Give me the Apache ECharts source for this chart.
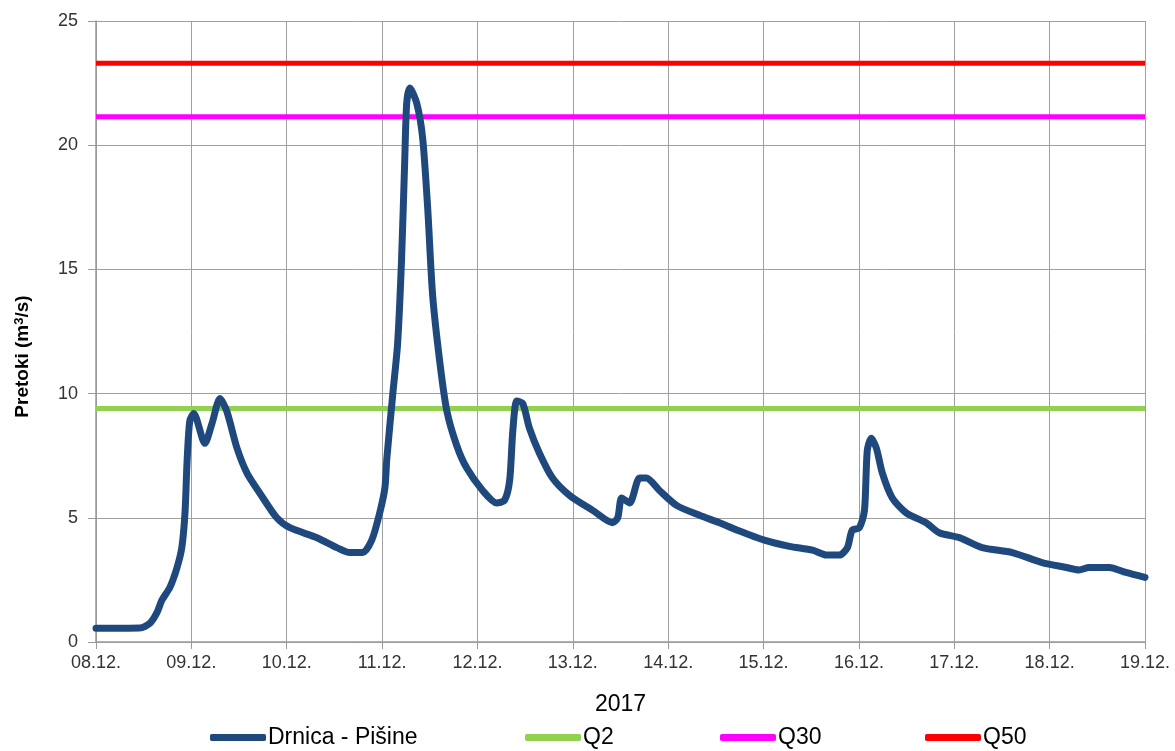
<!DOCTYPE html>
<html>
<head>
<meta charset="utf-8">
<script src="https://cdn.jsdelivr.net/npm/echarts@6/dist/echarts.min.js"></script>
<style>
  html, body { margin: 0; padding: 0; background: #fff; }
  #chart { width: 1175px; height: 751px; }
</style>
</head>
<body>
<div id="chart"></div>
<script>
// hours since 08.12.2017 00:00
const hours = [0, 11, 13.6, 15.3, 16.6, 18.6, 20.4, 21.6, 22.4, 22.9, 23.6, 24.6, 27.4, 29.2, 31.2, 32.9,
  35.5, 38, 41.2, 45.5, 48.8, 55.6, 60.6, 63.9, 67.1, 69.4, 71.4, 72.7, 73.2, 74.7, 75.9, 76.9, 77.7,
  78.2, 79, 80.7, 82.2, 83.5, 84.7, 86.5, 88.3, 90.8, 93.3, 97.3, 100.8, 102.8, 104.1, 104.9, 105.9,
  107.4, 109.1, 111.6, 114.9, 119.2, 125, 130, 131.3, 132.3, 134.3, 136.8, 138.5, 141.8, 146.1, 151.9,
  156.9, 161.4, 168.2, 174.5, 180.3, 183.8, 187.1, 189.1, 190.3, 192.1, 193.4, 194.1, 195.1, 196.4,
  197.9, 200.4, 203.9, 208.9, 212.2, 217.3, 223, 230.6, 238.1, 244.2, 247.4, 249.9, 255, 259.2, 264];
const flow = [0.55, 0.56, 0.76, 1.17, 1.69, 2.2, 3.0, 3.8, 5.2, 7.2, 8.9, 9.2, 8.0, 8.8, 9.8, 9.3,
  7.8, 6.8, 6.0, 5.0, 4.6, 4.2, 3.8, 3.6, 3.6, 4.1, 5.2, 6.2, 7.4, 10.0, 12.0, 15.4, 19.4,
  21.7, 22.3, 21.7, 20.3, 17.4, 14.0, 11.3, 9.3, 7.9, 7.0, 6.1, 5.6, 5.7, 6.5, 8.5, 9.7,
  9.6, 8.6, 7.6, 6.6, 5.9, 5.3, 4.8, 5.0, 5.8, 5.6, 6.6, 6.6, 6.1, 5.5, 5.1,
  4.8, 4.5, 4.1, 3.85, 3.7, 3.5, 3.5, 3.8, 4.5, 4.6, 5.3, 7.7, 8.2, 7.8,
  6.8, 5.8, 5.2, 4.8, 4.4, 4.2, 3.8, 3.6, 3.2, 3.0, 2.9, 3.0, 3.0, 2.8, 2.6];

const dayLabels = ['08.12.', '09.12.', '10.12.', '11.12.', '12.12.', '13.12.', '14.12.',
  '15.12.', '16.12.', '17.12.', '18.12.', '19.12.'];

const q2 = 9.4;
const q30 = 21.15;
const q50 = 23.3;

const seriesNames = ['Drnica - Pišine', 'Q2', 'Q30', 'Q50'];
const legendLeft = [210, 525, 720, 925];

const chart = echarts.init(document.getElementById('chart'));

function flatLine(v) {
  return [[0, v], [264, v]];
}

const font = 'Arial, "Liberation Sans", sans-serif';

// one legend block per entry, spaced like the original
const legends = seriesNames.map((n, i) => ({
  left: legendLeft[i],
  top: 726,
  padding: 0,
  itemWidth: 56,
  itemHeight: 7,
  icon: 'roundRect',
  textStyle: { fontFamily: font, fontSize: 23, color: '#000', padding: [0, 0, 0, -3] },
  data: [n]
}));

chart.setOption({
  animation: false,
  grid: { left: 96, right: 30, top: 21, bottom: 109 },
  legend: legends,
  xAxis: {
    type: 'value',
    min: 0,
    max: 264,
    interval: 24,
    name: '2017',
    nameLocation: 'middle',
    nameGap: 51,
    nameTextStyle: { fontFamily: font, fontSize: 23, color: '#000' },
    axisLine: { lineStyle: { color: '#9a9a9a', width: 1.5 } },
    axisTick: { show: true, length: 7, lineStyle: { color: '#9a9a9a' } },
    axisLabel: {
      fontFamily: font, fontSize: 18, color: '#333', margin: 12,
      formatter: v => dayLabels[Math.round(v / 24)]
    },
    splitLine: { show: true, lineStyle: { color: '#a0a0a0', width: 1 } }
  },
  yAxis: {
    type: 'value',
    min: 0,
    max: 25,
    interval: 5,
    name: '{a|Pretoki (m}{s|3}{a|/s)}',
    nameLocation: 'middle',
    nameGap: 63,
    nameRotate: 90,
    nameTextStyle: {
      padding: [0, 50, 0, 0],
      rich: {
        a: { fontFamily: font, fontSize: 19, fontWeight: 'bold', color: '#000' },
        s: { fontFamily: font, fontSize: 13, fontWeight: 'bold', color: '#000', verticalAlign: 'top', padding: [0, 0, 7, 0] }
      }
    },
    axisLine: { show: true, lineStyle: { color: '#9a9a9a', width: 1.5 } },
    axisTick: { show: true, length: 8, lineStyle: { color: '#9a9a9a' } },
    axisLabel: { fontFamily: font, fontSize: 18, color: '#333', margin: 18 },
    splitLine: { show: true, lineStyle: { color: '#a0a0a0', width: 1 } }
  },
  series: [
    {
      name: 'Q2', type: 'line', symbol: 'none', z: 2,
      data: flatLine(q2),
      lineStyle: { color: '#92d050', width: 5 }, itemStyle: { color: '#92d050' }
    },
    {
      name: 'Q30', type: 'line', symbol: 'none', z: 2,
      data: flatLine(q30),
      lineStyle: { color: '#ff00ff', width: 5 }, itemStyle: { color: '#ff00ff' }
    },
    {
      name: 'Q50', type: 'line', symbol: 'none', z: 2,
      data: flatLine(q50),
      lineStyle: { color: '#ff0000', width: 5 }, itemStyle: { color: '#ff0000' }
    },
    {
      name: 'Drnica - Pišine', type: 'line', symbol: 'none', z: 3,
      smooth: 0.25,
      data: hours.map((h, i) => [h, flow[i]]),
      lineStyle: { color: '#1f497d', width: 7, cap: 'round', join: 'round' },
      itemStyle: { color: '#1f497d' }
    }
  ]
});
</script>
</body>
</html>
